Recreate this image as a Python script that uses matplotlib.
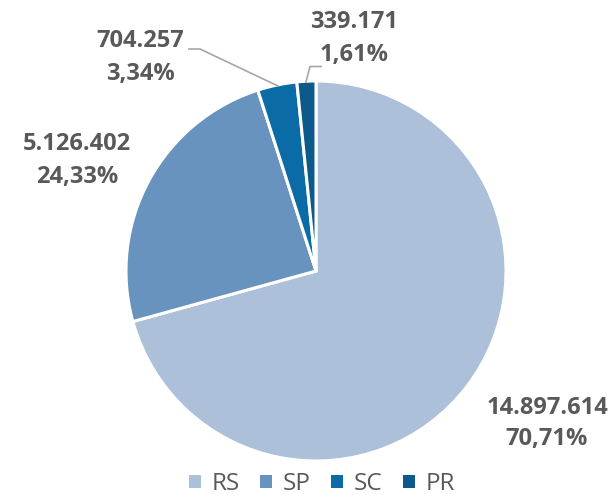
import matplotlib
matplotlib.use("Agg")
import matplotlib.pyplot as plt
from matplotlib.patches import Patch

categories = ["RS", "SP", "SC", "PR"]
values = [14897614, 5126402, 704257, 339171]
colors = ["#ADC0D9", "#6993BF", "#0A6BA6", "#0B5A89"]

W, H = 611, 495
fig = plt.figure(figsize=(W / 100, H / 100), dpi=100)
ax = fig.add_axes([0, 0, 1, 1])

def py(y):
    return H - y

cx, cy, r = 316, py(271), 190
ax.pie(values, colors=colors, startangle=90, counterclock=False,
       center=(cx, cy), radius=r, frame=True,
       wedgeprops=dict(edgecolor="white", linewidth=2.2))
ax.set_xlim(0, W)
ax.set_ylim(0, H)
ax.set_aspect("equal")
ax.axis("off")

total = sum(values)

def fmt_int(v):
    return f"{v:,}".replace(",", ".")

def fmt_pct(v):
    return f"{100 * v / total:.2f}%".replace(".", ",")

label_pos = [(547, 408, 439), (77, 144, 177), (140, 41, 74), (354, 22, 55)]
tcol = "#595959"
FAM = "Open Sans"
for v, (x, y1, y2) in zip(values, label_pos):
    ax.text(x, py(y1), fmt_int(v), ha="center", va="center", fontsize=17,
            fontweight="bold", color=tcol, family=FAM)
    ax.text(x, py(y2), fmt_pct(v), ha="center", va="center", fontsize=17,
            fontweight="bold", color=tcol, family=FAM)

# leader lines
lc = "#A6A6A6"
ax.plot([189, 200, 278], [py(49), py(49), py(86)], color=lc, lw=1.2)
ax.plot([321, 310, 306], [py(66.5), py(66.5), py(82)], color=lc, lw=1.2)

handles = [Patch(facecolor=c, edgecolor="none") for c in colors]
leg = fig.legend(handles, categories, loc="center", ncol=4,
                 bbox_to_anchor=(322 / W, 1 - 484 / H), frameon=False,
                 prop=dict(family=FAM, size=17.5),
                 handlelength=0.47, handleheight=0.47, handletextpad=0.45,
                 columnspacing=0.85, borderpad=0, borderaxespad=0)
for t in leg.get_texts():
    t.set_color(tcol)

fig.savefig("out.png", dpi=100)
